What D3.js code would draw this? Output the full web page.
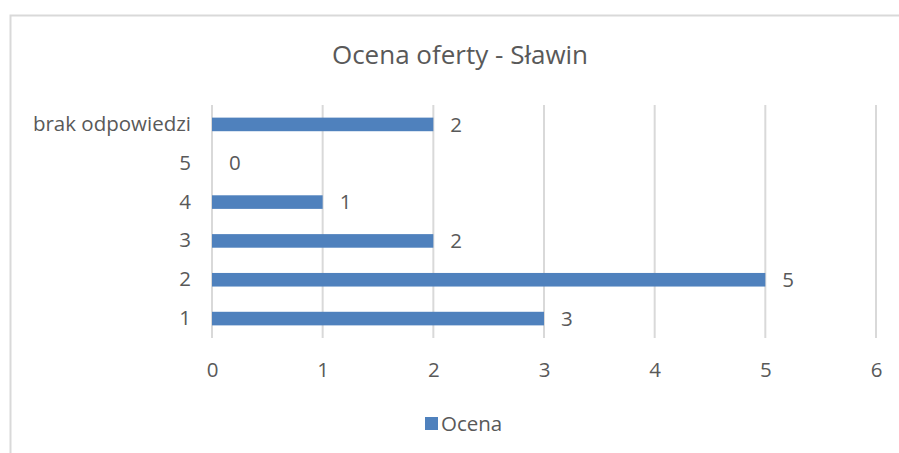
<!DOCTYPE html>
<html>
<head>
<meta charset="utf-8">
<script src="https://cdn.jsdelivr.net/npm/d3@7"></script>
<style>
  body { margin: 0; background: #fff; }
  svg text { font-family: "Open Sans", "Noto Sans", sans-serif; fill: #595959; }
</style>
</head>
<body>
<svg id="chart" width="899" height="453"></svg>
<script>
// Chart data
const title = 'Ocena oferty - Sławin';
const categories = ['brak odpowiedzi', '5', '4', '3', '2', '1'];
const values = [2, 0, 1, 2, 5, 3];
const seriesName = 'Ocena';
const xTicks = [0, 1, 2, 3, 4, 5, 6];

const BAR_COLOR = '#4f81bd';
const GRID_COLOR = '#d9d9d9';
const PLOT = { left: 212, right: 876, top: 105, bottom: 338 };
const LABEL_SIZE = 20.5;

const svg = d3.select('#chart');

// chart frame (cropped on right/bottom)
svg.append('rect')
    .attr('x', 10.5).attr('y', 15.5)
    .attr('width', 1000).attr('height', 1000)
    .attr('fill', 'none')
    .attr('stroke', '#d9d9d9')
    .attr('stroke-width', 2);

const x = d3.scaleLinear().domain([0, 6]).range([PLOT.left, PLOT.right]);
const y = d3.scaleBand().domain(categories).range([PLOT.top, PLOT.bottom]).paddingInner(0.65).paddingOuter(0.325);

// title
svg.append('text')
    .attr('x', 460).attr('y', 64)
    .attr('text-anchor', 'middle')
    .attr('font-size', 26)
    .text(title);

// gridlines
svg.append('g').selectAll('line')
    .data(xTicks.slice(1))
    .join('line')
    .attr('x1', d => x(d)).attr('x2', d => x(d))
    .attr('y1', PLOT.top).attr('y2', PLOT.bottom)
    .attr('stroke', GRID_COLOR)
    .attr('stroke-width', 2);

// x axis labels
const xAxis = d3.axisBottom(x).tickValues(xTicks).tickSize(0).tickPadding(0).tickFormat(d3.format('d'));
const gx = svg.append('g')
    .attr('transform', 'translate(0,377)')
    .call(xAxis);
gx.select('.domain').remove();
gx.selectAll('text').attr('font-size', LABEL_SIZE).attr('fill', '#595959').attr('dy', 0);

// category axis
const yAxis = d3.axisLeft(y).tickSize(0).tickPadding(21);
const gy = svg.append('g')
    .attr('transform', `translate(${PLOT.left},0)`)
    .call(yAxis);
gy.select('.domain')
    .attr('stroke', GRID_COLOR)
    .attr('stroke-width', 2)
    .attr('d', `M0,${PLOT.top}V${PLOT.bottom}`);
gy.selectAll('text').attr('font-size', LABEL_SIZE).attr('fill', '#595959');

// bars
svg.append('g').selectAll('rect')
    .data(values)
    .join('rect')
    .attr('x', x(0))
    .attr('y', (d, i) => y(categories[i]))
    .attr('width', d => x(d) - x(0))
    .attr('height', y.bandwidth())
    .attr('fill', BAR_COLOR);

// data labels
svg.append('g').selectAll('text')
    .data(values)
    .join('text')
    .attr('x', d => x(d) + 17)
    .attr('y', (d, i) => y(categories[i]) + y.bandwidth() / 2)
    .attr('dy', '0.35em')
    .attr('font-size', LABEL_SIZE)
    .text(d => d);

// legend
const lg = svg.append('g').attr('transform', 'translate(425,417)');
lg.append('rect').attr('width', 13).attr('height', 13).attr('fill', BAR_COLOR);
lg.append('text').attr('x', 16).attr('y', 14).attr('font-size', LABEL_SIZE).text(seriesName);
</script>
</body>
</html>
